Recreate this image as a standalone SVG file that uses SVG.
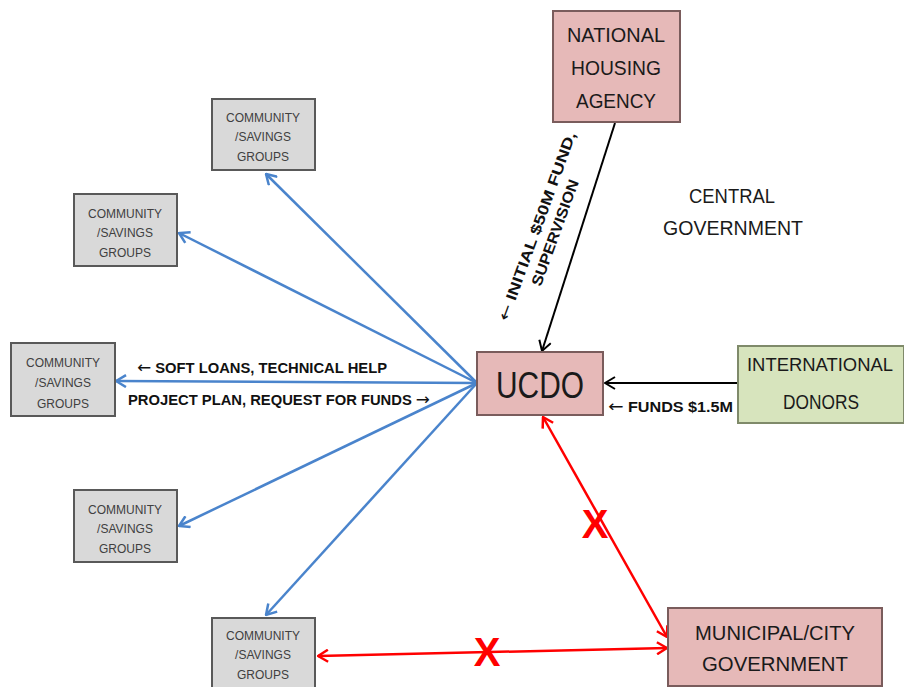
<svg xmlns="http://www.w3.org/2000/svg" width="904" height="687" viewBox="0 0 904 687">
<style>
.csg rect{fill:#d9d9d9;stroke:#595959;stroke-width:2}
.csg text{font-family:"Liberation Sans",Arial,sans-serif;font-size:12px;fill:#404040;text-anchor:middle}
.pink rect{fill:#e6b9b8;stroke:#7a5c5c;stroke-width:2}
.green rect{fill:#d7e4bd;stroke:#7f8a6a;stroke-width:2}
.lbl{font-family:"Liberation Sans",Arial,sans-serif;font-size:21px;fill:#1a1a1a;text-anchor:middle}
.bold{font-family:"Liberation Sans",Arial,sans-serif;font-weight:bold;font-size:14px;fill:#111}
.arr{font-family:"DejaVu Sans",sans-serif;font-weight:normal;font-size:16px}
.blue{stroke:#4a84cc;stroke-width:2.5;fill:none;marker-end:url(#ab)}
.red{stroke:#ff0000;stroke-width:2.5;fill:none;marker-end:url(#ar);marker-start:url(#ar)}
.blk{stroke:#000;stroke-width:2;fill:none;marker-end:url(#ak)}
.x{font-family:"Liberation Sans",Arial,sans-serif;font-weight:bold;font-size:40px;fill:#ff0000;text-anchor:middle}
</style>
<defs>
<marker id="ab" markerUnits="userSpaceOnUse" viewBox="0 0 12 14" markerWidth="12" markerHeight="14" refX="11" refY="7" orient="auto-start-reverse"><path d="M1,1 L11,7 L1,13" fill="none" stroke="#4a84cc" stroke-width="2.5"/></marker>
<marker id="ar" markerUnits="userSpaceOnUse" viewBox="0 0 12 14" markerWidth="12" markerHeight="14" refX="11" refY="7" orient="auto-start-reverse"><path d="M1,1 L11,7 L1,13" fill="none" stroke="#ff0000" stroke-width="2.5"/></marker>
<marker id="ak" markerUnits="userSpaceOnUse" viewBox="0 0 12 14" markerWidth="12" markerHeight="14" refX="11" refY="7" orient="auto-start-reverse"><path d="M1,1 L11,7 L1,13" fill="none" stroke="#000" stroke-width="2"/></marker>
</defs>
<rect width="904" height="687" fill="#fff"/>

<g id="connectors">
<line class="blue" x1="477" y1="383" x2="266" y2="174"/>
<line class="blue" x1="477" y1="383" x2="179" y2="233"/>
<line class="blue" x1="477" y1="383" x2="116" y2="381"/>
<line class="blue" x1="477" y1="383" x2="179" y2="526"/>
<line class="blue" x1="477" y1="383" x2="266" y2="615"/>
<line class="blk" x1="615" y1="123" x2="542" y2="351"/>
<line class="blk" x1="738" y1="383" x2="605" y2="383"/>
<line class="red" x1="543" y1="417" x2="667" y2="637"/>
<line class="red" x1="318" y1="656" x2="667" y2="648"/>
<text class="x" x="595" y="538">X</text>
<text class="x" x="487" y="666">X</text>
<text class="bold" x="137" y="373" textLength="250" lengthAdjust="spacingAndGlyphs"><tspan class="arr">←</tspan> SOFT LOANS, TECHNICAL HELP</text>
<text class="bold" x="128" y="405" textLength="302" lengthAdjust="spacingAndGlyphs">PROJECT PLAN, REQUEST FOR FUNDS <tspan class="arr">→</tspan></text>
<text class="bold" x="608" y="412" textLength="125" lengthAdjust="spacingAndGlyphs"><tspan class="arr">←</tspan> FUNDS $1.5M</text>
<g transform="translate(542,228) rotate(-70)">
<text class="bold" x="0" y="0" text-anchor="middle" style="font-size:15px" textLength="200" lengthAdjust="spacingAndGlyphs"><tspan class="arr">←</tspan> INITIAL $50M FUND,</text>
<text class="bold" x="0" y="19" text-anchor="middle" style="font-size:15px" textLength="112" lengthAdjust="spacingAndGlyphs">SUPERVISION</text>
</g>
</g>

<g id="central-government">
<text class="lbl" x="732" y="203" style="font-size:20px" textLength="86" lengthAdjust="spacingAndGlyphs">CENTRAL</text>
<text class="lbl" x="733" y="235" style="font-size:20px" textLength="140" lengthAdjust="spacingAndGlyphs">GOVERNMENT</text>
</g>

<g id="nha" class="pink">
<rect x="553" y="11" width="127" height="111"/>
<text class="lbl" x="616" y="42" textLength="98" lengthAdjust="spacingAndGlyphs">NATIONAL</text>
<text class="lbl" x="616" y="75" textLength="90" lengthAdjust="spacingAndGlyphs">HOUSING</text>
<text class="lbl" x="616" y="108" textLength="80" lengthAdjust="spacingAndGlyphs">AGENCY</text>
</g>

<g id="ucdo" class="pink">
<rect x="477" y="352" width="126" height="63"/>
<text class="lbl" x="540" y="398" style="font-size:36px" textLength="88" lengthAdjust="spacingAndGlyphs">UCDO</text>
</g>

<g id="donors" class="green">
<rect x="738" y="346" width="166" height="77"/>
<text class="lbl" x="820" y="371" style="font-size:19px" textLength="146" lengthAdjust="spacingAndGlyphs">INTERNATIONAL</text>
<text class="lbl" x="821" y="409" textLength="76" lengthAdjust="spacingAndGlyphs">DONORS</text>
</g>

<g id="municipal" class="pink">
<rect x="668" y="608" width="214" height="78"/>
<text class="lbl" x="775" y="640" textLength="160" lengthAdjust="spacingAndGlyphs">MUNICIPAL/CITY</text>
<text class="lbl" x="775" y="671" textLength="146" lengthAdjust="spacingAndGlyphs">GOVERNMENT</text>
</g>

<g id="csg1" class="csg">
<rect x="212" y="99" width="103" height="71"/>
<text x="263" y="122">COMMUNITY</text><text x="263" y="141">/SAVINGS</text><text x="263" y="161">GROUPS</text>
</g>
<g id="csg2" class="csg">
<rect x="74" y="194" width="103" height="72"/>
<text x="125" y="218">COMMUNITY</text><text x="125" y="237">/SAVINGS</text><text x="125" y="257">GROUPS</text>
</g>
<g id="csg3" class="csg">
<rect x="11" y="343" width="104" height="73"/>
<text x="63" y="367">COMMUNITY</text><text x="63" y="387">/SAVINGS</text><text x="63" y="408">GROUPS</text>
</g>
<g id="csg4" class="csg">
<rect x="74" y="490" width="103" height="72"/>
<text x="125" y="514">COMMUNITY</text><text x="125" y="533">/SAVINGS</text><text x="125" y="553">GROUPS</text>
</g>
<g id="csg5" class="csg">
<rect x="212" y="618" width="103" height="75"/>
<text x="263" y="640">COMMUNITY</text><text x="263" y="659">/SAVINGS</text><text x="263" y="679">GROUPS</text>
</g>
</svg>
